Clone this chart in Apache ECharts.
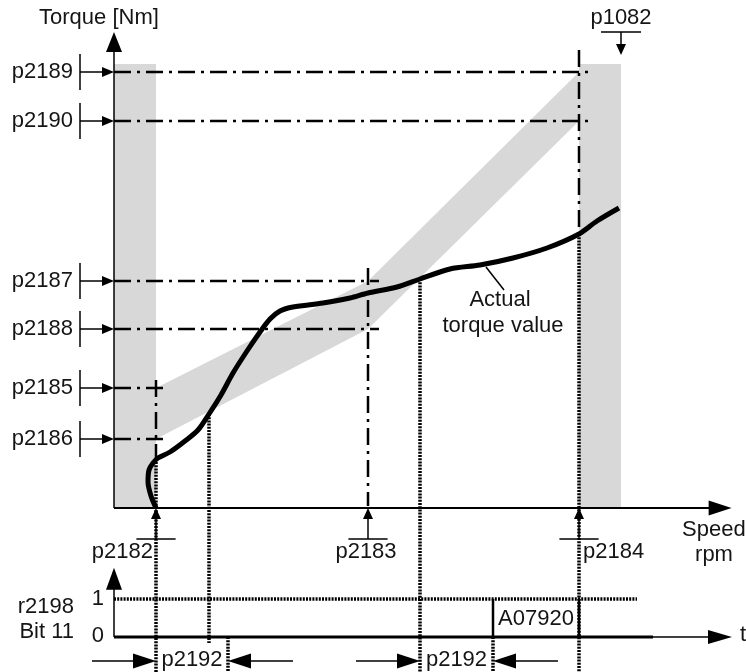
<!DOCTYPE html>
<html>
<head>
<meta charset="utf-8">
<script src="https://cdn.jsdelivr.net/npm/echarts@6.0.0/dist/echarts.min.js"></script>
<style>
  html, body { margin: 0; padding: 0; background: #fff; }
  #chart { width: 746px; height: 672px; }
</style>
</head>
<body>
<div id="chart"></div>
<script>
// torque thresholds (Nm, diagram units)
var torqueNames  = ['p2189', 'p2190', 'p2187', 'p2188', 'p2185', 'p2186'];
var torqueValues = [109, 96.75, 56.75, 44.75, 30, 17.25];
// speed thresholds (rpm, diagram units)
var speedNames  = ['p2182', 'p2183', 'p2184'];
var speedValues = [10.5, 63.5, 116.25];
var maxSpeedName = 'p1082';
var maxSpeed = 126.75;

// actual torque value curve
var actualSpeed  = [10.5, 9.25, 8.5, 8.75, 9.75, 11, 14, 17.75, 21, 23.75, 26.75, 29.75, 33.25, 36.5, 39, 41.5,
                    44.75, 52.25, 59, 63.5, 70.75, 76.5, 84, 91.5, 99.75, 108.25, 116.25, 120.75, 126.25];
var actualTorque = [0, 3, 6.5, 9.5, 11.25, 12.5, 14, 16.75, 19.5, 23.5, 28.25, 33.75, 39.25, 44, 47.25, 49.25,
                    50.25, 51.25, 52.5, 53.75, 55.25, 57.25, 59.75, 60.75, 62.5, 65, 68.5, 71.75, 75];

// points where the curve leaves / enters the band
var crossSpeed  = [10.5, 23.75, 76.5, 116.25];
var crossTorque = [11.5, 23.5, 57.25, 68.5];

// r2198 bit 11 and the two p2192 delays
var delayStart = [10.5, 76.5];
var delayEnd   = [28.5, 94.75];
var warnStart = 94.75, warnEnd = 116.25;
var warnText = 'A07920';

// ---------------------------------------------------------------
var speedMin = -28.5, speedMax = 158;
var torqueMin = -41, torqueMax = 127;
var sigMin = -0.92, sigMax = 16.76;
var bandTop = 111;
var FONT = '22px "Liberation Sans", Arial, sans-serif';

var lineStyles = {
  thin:    { width: 1.5 },
  axis:    { width: 1.8 },
  solid:   { width: 2.5 },
  thick:   { width: 3 },
  dashdot: { width: 2.5, dash: [17, 6, 3, 6] },
  dotted:  { width: 3.5, dash: [2, 1.2] }
};

// grey areas: band between the limits plus the two speed ranges outside it
var greyShapes = [
  { speed: [0, speedValues[0], speedValues[0], 0], torque: [0, 0, bandTop, bandTop] },
  { speed: [speedValues[2], maxSpeed, maxSpeed, speedValues[2]], torque: [0, 0, bandTop, bandTop] },
  { speed: [speedValues[0], speedValues[1], speedValues[2], speedValues[2], speedValues[1], speedValues[0]],
    torque: [torqueValues[4], torqueValues[2], torqueValues[0], torqueValues[1], torqueValues[3], torqueValues[5]] }
];

// line work on the torque / speed plane
var segs = [];
segs.push({ a: [0, 0], b: [0, 119], kind: 'thin', head: [16, 20] });
segs.push({ a: [0, 0], b: [154.4, 0], kind: 'axis', head: [15, 23] });
var levelReach = [2, 2, 1, 1, 0, 0];
torqueValues.forEach(function (v, i) {
  segs.push({ a: [0, v], b: [speedValues[levelReach[i]] + 2.75, v], kind: 'dashdot' });
  segs.push({ a: [-8.5, v - 4.5], b: [-8.5, v + 4.5], kind: 'thin' });
  segs.push({ a: [-8.5, v], b: [0, v], kind: 'thin', head: [10, 12] });
});
speedValues.forEach(function (x) {
  segs.push({ a: [x - 4.9, -7.75], b: [x + 4.9, -7.75], kind: 'thin' });
  segs.push({ a: [x, -7.75], b: [x, 0], kind: 'thin', head: [10, 11] });
});
segs.push({ a: [maxSpeed - 5, 119], b: [maxSpeed + 5, 119], kind: 'thin' });
segs.push({ a: [maxSpeed, 119], b: [maxSpeed, 113.25], kind: 'thin', head: [10, 11] });
segs.push({ a: [speedValues[0], 32], b: [speedValues[0], crossTorque[0]], kind: 'dashdot' });
segs.push({ a: [speedValues[1], 60], b: [speedValues[1], 0.5], kind: 'dashdot' });
segs.push({ a: [speedValues[2], 114.5], b: [speedValues[2], crossTorque[3]], kind: 'dashdot' });
crossSpeed.forEach(function (x, i) {
  segs.push({ a: [x, crossTorque[i]], b: [x, i === 1 ? -33.75 : torqueMin], kind: 'dotted' });
});
segs.push({ a: [93, 60.25], b: [97.5, 54.5], kind: 'thin' });

// line work on the r2198 time plane
var sigSegs = [];
sigSegs.push({ a: [0, 0], b: [0, 1.82], kind: 'thin', head: [16, 22] });
sigSegs.push({ a: [0, 0], b: [154.5, 0], kind: 'thin', head: [14, 24] });
sigSegs.push({ a: [0, 0], b: [134.75, 0], kind: 'thick' });
sigSegs.push({ a: [0, 1], b: [130.75, 1], kind: 'dotted' });
sigSegs.push({ a: [warnStart, 0], b: [warnStart, 1], kind: 'solid' });
sigSegs.push({ a: [warnEnd, 0], b: [warnEnd, 1], kind: 'solid' });
sigSegs.push({ a: [delayEnd[0], 0], b: [delayEnd[0], sigMin], kind: 'dotted' });
sigSegs.push({ a: [delayEnd[1], 0], b: [delayEnd[1], sigMin], kind: 'dotted' });
delayStart.forEach(function (s, i) {
  sigSegs.push({ a: [s - 16, -0.63], b: [s, -0.63], kind: 'thin', head: [15, 23] });
  sigSegs.push({ a: [delayEnd[i] + 16.25, -0.63], b: [delayEnd[i], -0.63], kind: 'thin', head: [15, 23] });
});

// text
var texts = [
  ['Torque [Nm]', -18.75, 122.5, 'left'],
  ['Speed', 142, -5.5, 'left'],
  ['rpm', 150, -11.75, 'center'],
  ['Actual', 96.5, 52, 'center'],
  ['torque value', 97.25, 45.5, 'center'],
  [speedNames[0], speedValues[0] - 0.75, -11, 'right'],
  [speedNames[1], speedValues[1] - 0.5, -11, 'center'],
  [speedNames[2], speedValues[2] + 1, -11, 'left'],
  [maxSpeedName, maxSpeed, 122.5, 'center']
];
torqueNames.forEach(function (n, i) { texts.push([n, -10.25, torqueValues[i], 'right']); });
var sigTexts = [
  ['r2198', -10, 0.8, 'right'],
  ['Bit 11', -10, 0.14, 'right'],
  ['1', -2.5, 1.0, 'right'],
  ['0', -2.5, 0.02, 'right'],
  ['t', 156.5, 0.05, 'left'],
  [warnText, (warnStart + warnEnd) / 2, 0.47, 'center'],
  ['p2192', (delayStart[0] + delayEnd[0]) / 2, -0.6, 'center'],
  ['p2192', (delayStart[1] + delayEnd[1]) / 2, -0.6, 'center']
];

function segRender(list) {
  return function (params, api) {
    var s = list[params.dataIndex];
    var a = api.coord([api.value(0), api.value(1)]);
    var b = api.coord([api.value(2), api.value(3)]);
    var st = lineStyles[s.kind];
    var kids = [];
    var end = b;
    if (s.head) {
      var dx = b[0] - a[0], dy = b[1] - a[1];
      var len = Math.sqrt(dx * dx + dy * dy) || 1;
      var ux = dx / len, uy = dy / len;
      var w = s.head[0], h = s.head[1];
      var bx = b[0] - ux * h, by = b[1] - uy * h;
      kids.push({
        type: 'polygon',
        shape: { points: [[b[0], b[1]], [bx - uy * w / 2, by + ux * w / 2], [bx + uy * w / 2, by - ux * w / 2]] },
        style: { fill: '#000' }
      });
      end = [bx + ux, by + uy];
    }
    kids.push({
      type: 'line',
      shape: { x1: a[0], y1: a[1], x2: end[0], y2: end[1] },
      style: { stroke: '#000', lineWidth: st.width, lineDash: st.dash || null, lineCap: 'butt' }
    });
    return { type: 'group', children: kids };
  };
}

function textRender(list) {
  return function (params, api) {
    var t = list[params.dataIndex];
    var p = api.coord([api.value(0), api.value(1)]);
    return {
      type: 'text', x: p[0], y: p[1],
      style: { text: t[0], textAlign: t[3], textVerticalAlign: 'middle', font: FONT, fill: '#151515' }
    };
  };
}

var chart = echarts.init(document.getElementById('chart'));
chart.setOption({
  animation: false,
  backgroundColor: '#fff',
  grid: { left: 0, right: 0, top: 0, bottom: 0 },
  xAxis: { type: 'value', min: speedMin, max: speedMax, show: false },
  yAxis: [
    { type: 'value', min: torqueMin, max: torqueMax, show: false },
    { type: 'value', min: sigMin, max: sigMax, show: false }
  ],
  series: [
    {
      type: 'custom', z: 1, silent: true,
      data: greyShapes.map(function (g) { return [g.speed[0], g.torque[0]]; }),
      renderItem: function (params, api) {
        var g = greyShapes[params.dataIndex];
        var pts = g.speed.map(function (x, i) { return api.coord([x, g.torque[i]]); });
        return { type: 'polygon', shape: { points: pts }, style: { fill: '#d8d8d8' } };
      }
    },
    {
      type: 'custom', z: 2, silent: true,
      data: segs.map(function (s) { return [s.a[0], s.a[1], s.b[0], s.b[1]]; }),
      encode: { x: [0, 2], y: [1, 3] },
      renderItem: segRender(segs)
    },
    {
      type: 'custom', z: 2, silent: true, yAxisIndex: 1,
      data: sigSegs.map(function (s) { return [s.a[0], s.a[1], s.b[0], s.b[1]]; }),
      encode: { x: [0, 2], y: [1, 3] },
      renderItem: segRender(sigSegs)
    },
    {
      name: 'Actual torque value',
      type: 'line', z: 3, silent: true,
      data: actualSpeed.map(function (x, i) { return [x, actualTorque[i]]; }),
      smooth: 0.3,
      showSymbol: false,
      lineStyle: { color: '#000', width: 5 }
    },
    {
      type: 'custom', z: 4, silent: true,
      data: texts.map(function (t) { return [t[1], t[2]]; }),
      renderItem: textRender(texts)
    },
    {
      type: 'custom', z: 4, silent: true, yAxisIndex: 1,
      data: sigTexts.map(function (t) { return [t[1], t[2]]; }),
      renderItem: textRender(sigTexts)
    }
  ]
});
</script>
</body>
</html>
